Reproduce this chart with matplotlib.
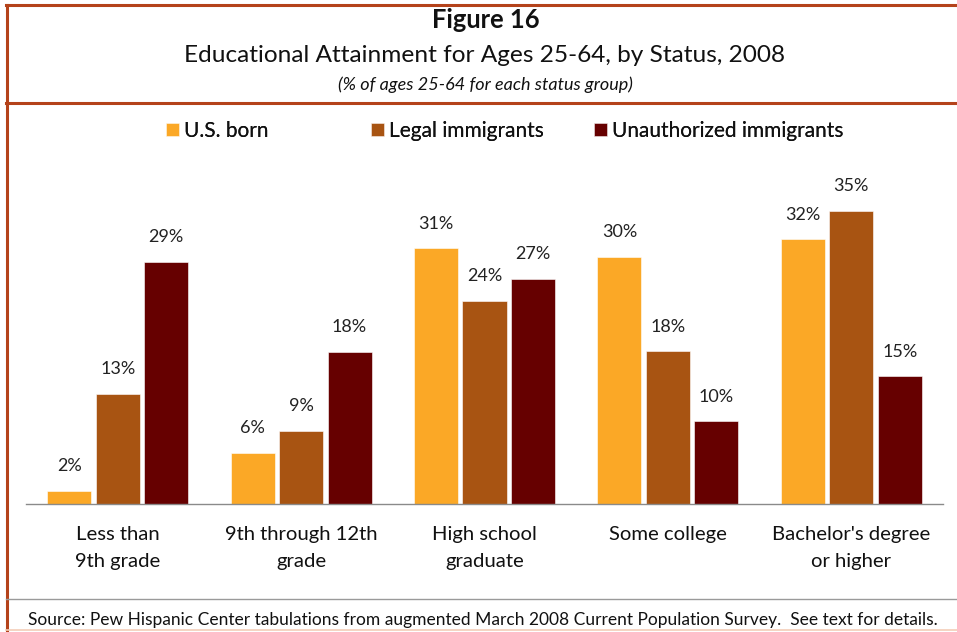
import matplotlib
matplotlib.use("Agg")
import matplotlib.pyplot as plt
from matplotlib.lines import Line2D
import numpy as np

plt.rcParams['font.family'] = ['Lato', 'DejaVu Sans']

categories = ["Less than\n9th grade", "9th through 12th\ngrade", "High school\ngraduate",
              "Some college", "Bachelor's degree\nor higher"]
series_names = ["U.S. born", "Legal immigrants", "Unauthorized immigrants"]
us_born = [1.6, 6.1, 30.6, 29.6, 31.7]
legal = [13.2, 8.8, 24.3, 18.3, 35.1]
unauthorized = [29.0, 18.2, 27.0, 9.9, 15.3]
colors = ["#FBA826", "#A85412", "#660000"]

W, H = 957, 632
fig = plt.figure(figsize=(W / 100, H / 100), dpi=100)

def fx(px):
    return px / W

def fy(py):
    return 1 - py / H

ax = fig.add_axes([fx(26), fy(504), fx(943) - fx(26), fy(180) - fy(504)])
x = np.arange(len(categories))
bw = 0.24
off = 0.264
series = [us_born, legal, unauthorized]
containers = []
for i, (vals, c, name) in enumerate(zip(series, colors, series_names)):
    bc = ax.bar(x + (i - 1) * off, vals, width=bw, color=c, label=name,
                edgecolor='white', linewidth=0.4)
    containers.append(bc)
    for xi, v in zip(x + (i - 1) * off, vals):
        ax.annotate(f"{v:.0f}%", (xi, v), xytext=(0, 12), textcoords='offset points',
                    ha='center', va='bottom', fontsize=13, color='#222222')

ax.set_xlim(-0.5, len(categories) - 0.5)
ax.set_ylim(0, 38.8)
ax.set_yticks([])
for s in ['top', 'right', 'left']:
    ax.spines[s].set_visible(False)
ax.spines['bottom'].set_color('#8a8a8a')
ax.spines['bottom'].set_linewidth(1.0)
ax.set_xticks(x)
ax.set_xticklabels(categories, fontsize=14.6, linespacing=1.72, color='#111111')
ax.tick_params(axis='x', length=0, pad=16)

# Titles
fig.text(fx(486), fy(20), "Figure 16", ha='center', va='center', fontsize=18.4,
         fontweight='bold', color='#111111')
fig.text(fx(485), fy(55), "Educational Attainment for Ages 25-64, by Status, 2008",
         ha='center', va='center', fontsize=17.6, color='#111111')
fig.text(fx(485), fy(85), "(% of ages 25-64 for each status group)", ha='center',
         va='center', fontsize=13, style='italic', color='#111111')

# Legends (one per entry)
leg_x = [166, 371, 594]
for bc, name, lx in zip(containers, series_names, leg_x):
    lg = fig.legend([bc], [name], loc='center left', bbox_to_anchor=(fx(lx), fy(131)),
                    frameon=False, fontsize=15, handlelength=0.6, handleheight=0.6,
                    handletextpad=0.28, borderpad=0, borderaxespad=0)
    for t in lg.get_texts():
        t.set_color('#111111')
    fig.add_artist(lg)

# Source
fig.text(fx(28), fy(620), "Source: Pew Hispanic Center tabulations from augmented March 2008 "
         "Current Population Survey.  See text for details.", ha='left', va='center',
         fontsize=12.55, color='#111111')

# Frame lines
frame = '#B4421A'
fig.add_artist(Line2D([fx(6), 1], [fy(5), fy(5)], color=frame, lw=2.2))
fig.add_artist(Line2D([fx(7), fx(7)], [fy(5), 0], color=frame, lw=2.2))
fig.add_artist(Line2D([fx(6), 1], [fy(103), fy(103)], color=frame, lw=2.2))
fig.add_artist(Line2D([fx(6), 1], [fy(599), fy(599)], color='#9a9a9a', lw=1.0))
fig.add_artist(Line2D([fx(6), 1], [fy(630), fy(630)], color='#F3CDB8', lw=1.2))

fig.savefig("out.png", dpi=100)
